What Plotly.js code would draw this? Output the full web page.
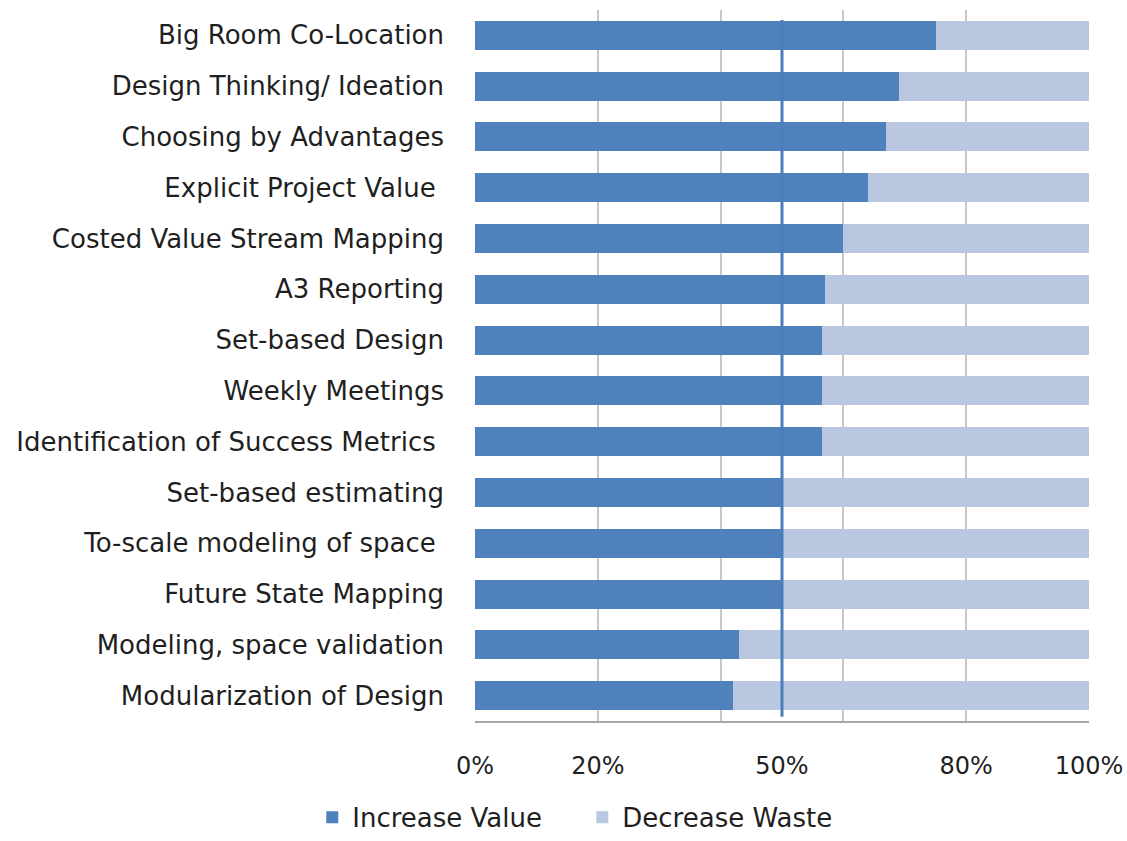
<!DOCTYPE html>
<html>
<head>
<meta charset="utf-8">
<script src="https://cdn.plot.ly/plotly-3.0.1.min.js"></script>
<style>
  html, body { margin: 0; padding: 0; background: #ffffff; }
  #chart { width: 1127px; height: 841px; }
</style>
</head>
<body>
<div id="chart"></div>
<script>
const categories = [
  "Big Room Co-Location",
  "Design Thinking/ Ideation",
  "Choosing by Advantages",
  "Explicit Project Value\u00a0",
  "Costed Value Stream Mapping",
  "A3 Reporting",
  "Set-based Design",
  "Weekly Meetings",
  "Identification of Success Metrics\u00a0",
  "Set-based estimating",
  "To-scale modeling of space\u00a0",
  "Future State Mapping",
  "Modeling, space validation",
  "Modularization of Design"
];
const increaseValue = [75, 69, 67, 64, 60, 57, 56.5, 56.5, 56.5, 50, 50, 50, 43, 42];
const decreaseWaste = [25, 31, 33, 36, 40, 43, 43.5, 43.5, 43.5, 50, 50, 50, 57, 58];
const seriesNames = ["Increase Value", "Decrease Waste"];
const tickValues = [0, 20, 50, 80, 100];
const tickLabels = ["0%", "20%", "50%", "80%", "100%"];
const referenceLine = 50;

const FONT = "'DejaVu Sans', 'Open Sans', sans-serif";
const TEXT = "#1f1f1f";

const traces = [
  {
    type: "bar", orientation: "h", name: seriesNames[0],
    y: categories, x: increaseValue,
    marker: { color: "#4F81BD", line: { width: 0 } },
    hoverinfo: "skip"
  },
  {
    type: "bar", orientation: "h", name: seriesNames[1],
    y: categories, x: decreaseWaste,
    marker: { color: "#B9C7E1", line: { width: 0 } },
    hoverinfo: "skip"
  }
];

const layout = {
  width: 1127, height: 841,
  paper_bgcolor: "#ffffff", plot_bgcolor: "#ffffff",
  margin: { l: 475, r: 38, t: 10, b: 120, autoexpand: false },
  barmode: "stack",
  bargap: 0.43,
  font: { family: FONT, size: 24, color: TEXT },
  showlegend: true,
  legend: {
    orientation: "h",
    traceorder: "normal",
    x: -0.265, xanchor: "left",
    y: -0.1685, yanchor: "bottom",
    entrywidth: 225, entrywidthmode: "pixels",
    font: { family: FONT, size: 26, color: TEXT },
    itemclick: false, itemdoubleclick: false,
    tracegroupgap: 0
  },
  xaxis: {
    range: [0, 100],
    tickmode: "array",
    tickvals: tickValues,
    ticktext: tickLabels,
    showgrid: false,
    zeroline: false,
    showline: true, linecolor: "#A6A6A6", linewidth: 2,
    ticks: "",
    ticklabelstandoff: 22,
    tickfont: { family: FONT, size: 24, color: TEXT },
    minor: { tickmode: "linear", tick0: 0, dtick: 20, showgrid: true, gridcolor: "#C8C8C8", gridwidth: 2, ticks: "" },
    fixedrange: true
  },
  yaxis: {
    type: "category",
    autorange: "reversed",
    showgrid: false,
    zeroline: false,
    showline: false,
    ticks: "",
    ticklabelstandoff: 30,
    tickfont: { family: FONT, size: 26, color: TEXT },
    fixedrange: true
  },
  shapes: [
    {
      type: "line", xref: "x", yref: "paper",
      x0: referenceLine, x1: referenceLine, y0: 0.006, y1: 0.986,
      line: { color: "#4A7EBB", width: 3 },
      layer: "above"
    }
  ]
};

Plotly.newPlot("chart", traces, layout, { staticPlot: true, displayModeBar: false });
</script>
</body>
</html>
